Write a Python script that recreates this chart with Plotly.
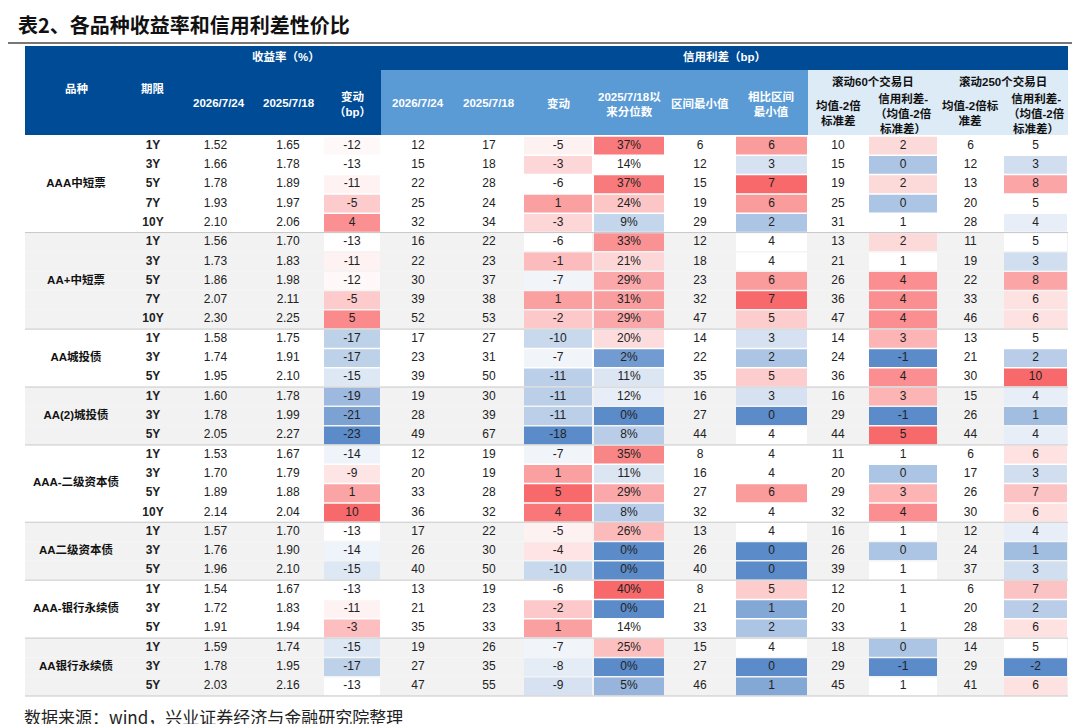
import plotly.graph_objects as go
from plotly.colors import sample_colorscale
import numpy as np

groups = ['AAA中短票', 'AA+中短票', 'AA城投债', 'AA(2)城投债', 'AAA-二级资本债',
          'AA二级资本债', 'AAA-银行永续债', 'AA银行永续债']
tenors = [['1Y', '3Y', '5Y', '7Y', '10Y'], ['1Y', '3Y', '5Y', '7Y', '10Y'],
          ['1Y', '3Y', '5Y'], ['1Y', '3Y', '5Y'], ['1Y', '3Y', '5Y', '10Y'],
          ['1Y', '3Y', '5Y'], ['1Y', '3Y', '5Y'], ['1Y', '3Y', '5Y']]

yld_now = [1.52, 1.66, 1.78, 1.93, 2.10, 1.56, 1.73, 1.86, 2.07, 2.30, 1.58, 1.74, 1.95,
           1.60, 1.78, 2.05, 1.53, 1.70, 1.89, 2.14, 1.57, 1.76, 1.96, 1.54, 1.72, 1.91,
           1.59, 1.78, 2.03]
yld_prev = [1.65, 1.78, 1.89, 1.97, 2.06, 1.70, 1.83, 1.98, 2.11, 2.25, 1.75, 1.91, 2.10,
            1.78, 1.99, 2.27, 1.67, 1.79, 1.88, 2.04, 1.70, 1.90, 2.10, 1.67, 1.83, 1.94,
            1.74, 1.95, 2.16]
yld_chg = [-12, -13, -11, -5, 4, -13, -11, -12, -5, 5, -17, -17, -15, -19, -21, -23,
           -14, -9, 1, 10, -13, -14, -15, -13, -11, -3, -15, -17, -13]
spr_now = [12, 15, 22, 25, 32, 16, 22, 30, 39, 52, 17, 23, 39, 19, 28, 49, 12, 20, 33, 36,
           17, 26, 40, 13, 21, 35, 19, 27, 47]
spr_prev = [17, 18, 28, 24, 34, 22, 23, 37, 38, 53, 27, 31, 50, 30, 39, 67, 19, 19, 28, 32,
            22, 30, 50, 19, 23, 33, 26, 35, 55]
spr_chg = [-5, -3, -6, 1, -3, -6, -1, -7, 1, -2, -10, -7, -11, -11, -11, -18, -7, 1, 5, 4,
           -5, -4, -10, -6, -2, 1, -7, -8, -9]
spr_pct = [37, 14, 37, 24, 9, 33, 21, 29, 31, 29, 20, 2, 11, 12, 0, 8, 35, 11, 29, 8,
           26, 0, 0, 40, 0, 14, 25, 0, 5]
spr_min = [6, 12, 15, 19, 29, 12, 18, 23, 32, 47, 14, 22, 35, 16, 27, 44, 8, 16, 27, 32,
           13, 26, 40, 8, 21, 33, 15, 27, 46]
vs_min = [6, 3, 7, 6, 2, 4, 4, 6, 7, 5, 3, 2, 5, 3, 0, 4, 4, 4, 6, 4, 4, 0, 0, 5, 1, 2,
          4, 0, 1]
m60 = [10, 15, 19, 25, 31, 13, 21, 26, 36, 47, 14, 24, 36, 16, 29, 44, 11, 20, 29, 32,
       16, 26, 39, 12, 20, 33, 18, 29, 45]
vs60 = [2, 0, 2, 0, 1, 2, 1, 4, 4, 4, 3, -1, 4, 3, -1, 5, 1, 0, 3, 4, 1, 0, 1, 1, 1, 1,
        0, -1, 1]
m250 = [6, 12, 13, 20, 28, 11, 19, 22, 33, 46, 13, 21, 30, 15, 26, 44, 6, 17, 26, 30,
        12, 24, 37, 6, 20, 28, 14, 29, 41]
vs250 = [5, 3, 8, 5, 4, 5, 3, 8, 6, 6, 5, 2, 10, 4, 1, 4, 6, 3, 7, 6, 4, 1, 3, 7, 2, 6,
         5, -2, 6]

FONT = 'Liberation Sans, Noto Sans CJK SC'
W, H = 1080, 724
top, bottom = 128, 688

tenor_col, band, group_of = [], [], []
for gi, ts in enumerate(tenors):
    for t in ts:
        tenor_col.append('<b>' + t + '</b>')
        band.append('white' if gi % 2 == 0 else '#f2f2f2')
        group_of.append(gi)
n = len(tenor_col)
rh = (bottom - top) / n
yc = [top + (i + 0.5) * rh for i in range(n)]

scale = [[0, '#5b8bc9'], [0.5, '#ffffff'], [1, '#f8696b']]


def heat(vals):
    v = np.array(vals, dtype=float)
    lo, md, hi = v.min(), np.median(v), v.max()
    pos = [0.5 * (x - lo) / (md - lo) if x <= md else 0.5 + 0.5 * (x - md) / (hi - md) for x in v]
    return sample_colorscale(scale, pos)


columns = [[''] * n, tenor_col, [f'{v:.2f}' for v in yld_now], [f'{v:.2f}' for v in yld_prev],
           yld_chg, spr_now, spr_prev, spr_chg, [f'{v}%' for v in spr_pct], spr_min, vs_min,
           m60, vs60, m250, vs250]
heat_cols = {4: yld_chg, 7: spr_chg, 8: spr_pct, 10: vs_min, 12: vs60, 14: vs250}
edges = [17, 120, 170, 245, 315, 373, 447, 515, 585, 657, 727, 800, 860, 930, 995, 1060]

fig = go.Figure()
for c, vals in enumerate(columns):
    x0, x1 = edges[c], edges[c + 1]
    if c in heat_cols:
        fig.add_trace(go.Bar(orientation='h', y=yc, x=[x1 - x0] * n, base=x0, width=rh,
                             marker=dict(color=band, line_width=0), hoverinfo='skip'))
        fig.add_trace(go.Bar(orientation='h', y=yc, x=[x1 - x0 - 2] * n, base=x0 + 1, width=rh - 1.5,
                             marker=dict(color=heat(heat_cols[c]), line_width=0), hoverinfo='skip'))
    else:
        fig.add_trace(go.Bar(orientation='h', y=yc, x=[x1 - x0] * n, base=x0, width=rh,
                             marker=dict(color=band, line_width=0), hoverinfo='skip'))
    fig.add_trace(go.Scatter(x=[(x0 + x1) / 2] * n, y=yc, mode='text', text=[str(v) for v in vals],
                             textfont=dict(family=FONT, size=12, color='#222'), hoverinfo='skip'))

# group labels
gy, gl = [], []
r = 0
for g, ts in zip(groups, tenors):
    gy.append(top + (r + len(ts) / 2) * rh)
    gl.append('<b>' + g + '</b>')
    r += len(ts)
fig.add_trace(go.Scatter(x=[68] * len(groups), y=gy, mode='text', text=gl,
                         textfont=dict(family=FONT, size=11.5, color='#111'), hoverinfo='skip'))

shapes = [
    dict(type='line', x0=0, x1=1080, y0=35, y1=35, line=dict(color='#777', width=2)),
    dict(type='rect', x0=17, x1=1060, y0=38, y1=127, fillcolor='#004b96', line_width=0),
    dict(type='rect', x0=373, x1=800, y0=62, y1=127, fillcolor='#5b9bd5', line_width=0),
    dict(type='rect', x0=800, x1=1060, y0=62, y1=127, fillcolor='#ddebf7', line_width=0),
]
r = 0
for ts in tenors:
    r += len(ts)
    yy = top + r * rh
    shapes.append(dict(type='line', x0=17, x1=1060, y0=yy, y1=yy,
                       line=dict(color='#c8c8c8', width=1)))
for s in shapes:
    s.update(xref='x', yref='y', layer='above' if s['type'] == 'line' else 'below')

hdr = [
    ('收益率（%）', 278, 48, 'white'), ('信用利差（bp）', 716, 48, 'white'),
    ('品种', 68, 80, 'white'), ('期限', 145, 80, 'white'),
    ('2026/7/24', 211, 95, 'white'), ('2025/7/18', 281, 95, 'white'),
    ('变动<br>（bp）', 344, 96, 'white'),
    ('2026/7/24', 410, 95, 'white'), ('2025/7/18', 481, 95, 'white'),
    ('变动', 550, 95, 'white'), ('2025/7/18以<br>来分位数', 621, 96, 'white'),
    ('区间最小值', 692, 95, 'white'), ('相比区间<br>最小值', 763, 96, 'white'),
    ('滚动60个交易日', 865, 73, '#111'), ('滚动250个交易日', 995, 73, '#111'),
    ('均值-2倍<br>标准差', 830, 105, '#111'), ('信用利差-<br>（均值-2倍<br>标准差）', 895, 105, '#111'),
    ('均值-2倍标<br>准差', 962, 105, '#111'), ('信用利差-<br>（均值-2倍<br>标准差）', 1028, 105, '#111'),
]
ann = [dict(text='<b>' + t + '</b>', x=x, y=y, xref='x', yref='y', showarrow=False,
            font=dict(size=11.5, color=c, family=FONT))
       for t, x, y, c in hdr]
ann.append(dict(text='<b>表2、各品种收益率和信用利差性价比</b>', x=8, y=16, xref='x', yref='y',
                xanchor='left', showarrow=False,
                font=dict(size=20, color='#111', family='Noto Sans CJK SC')))
ann.append(dict(text='数据来源：wind，兴业证券经济与金融研究院整理', x=14, y=708, xref='x', yref='y',
                xanchor='left', showarrow=False,
                font=dict(size=17, color='#222', family='Noto Sans CJK SC')))

fig.update_layout(width=W, height=H, margin=dict(l=0, r=0, t=0, b=0), paper_bgcolor='white',
                  plot_bgcolor='white', barmode='overlay', showlegend=False,
                  shapes=shapes, annotations=ann,
                  xaxis=dict(range=[0, W], visible=False, fixedrange=True),
                  yaxis=dict(range=[H, 0], visible=False, fixedrange=True))
fig.write_html('out.html')
